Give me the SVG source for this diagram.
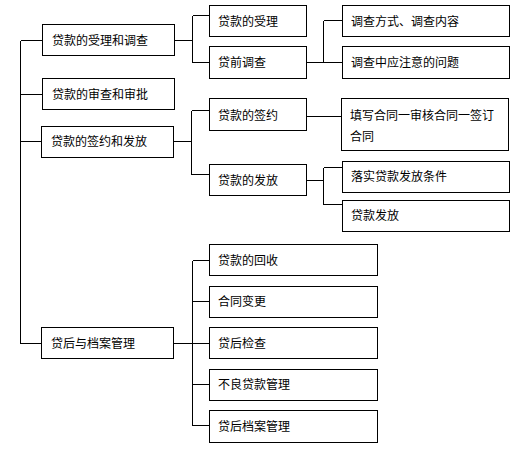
<svg xmlns="http://www.w3.org/2000/svg" width="529" height="457" viewBox="0 0 529 457">
<style>
rect{fill:#fff;stroke:#000;stroke-width:1}
path{fill:none;stroke:#000;stroke-width:1}
text{font-family:"Noto Sans CJK SC","Noto Sans",sans-serif;font-size:12px;fill:#000}
</style>
<rect x="0" y="0" width="529" height="457" style="stroke:none"/>
<g id="connectors" shape-rendering="crispEdges">
<path d="M20.5 40.5V343.5M20.5 40.5H42.5M20.5 94.5H42.5M20.5 141.5H41.5M20.5 343.5H41.5"/>
<path d="M174.5 40.5H192.5M192.5 15.5V62.5M192.5 15.5H209.5M192.5 62.5H209.5"/>
<path d="M306.5 62.5H323.5M323.5 20.5V62.5M323.5 20.5H342.5M323.5 62.5H342.5"/>
<path d="M173.5 141.5H191.5M191.5 110.5V174.5M191.5 110.5H209.5M191.5 174.5H209.5"/>
<path d="M306.5 116.5H341.5"/>
<path d="M306.5 180.5H323.5M323.5 167.5V204.5M323.5 167.5H342.5M323.5 204.5H342.5"/>
<path d="M173.5 343.5H192.5M192.5 260.5V425.5M192.5 260.5H209.5M192.5 301.5H209.5M192.5 343.5H209.5M192.5 384.5H209.5M192.5 425.5H209.5"/>
</g>
<g id="n1"><rect x="42.5" y="24.5" width="132" height="31" shape-rendering="crispEdges"/><text x="52" y="44.5">贷款的受理和调查</text></g>
<g id="n2"><rect x="42.5" y="78.5" width="132" height="31" shape-rendering="crispEdges"/><text x="52" y="98.5">贷款的审查和审批</text></g>
<g id="n3"><rect x="41.5" y="126.5" width="132" height="31" shape-rendering="crispEdges"/><text x="51" y="145.5">贷款的签约和发放</text></g>
<g id="n4"><rect x="41.5" y="327.5" width="132" height="31" shape-rendering="crispEdges"/><text x="51" y="347.5">贷后与档案管理</text></g>
<g id="n1a"><rect x="209.5" y="5.5" width="97" height="31" shape-rendering="crispEdges"/><text x="218" y="25.5">贷款的受理</text></g>
<g id="n1b"><rect x="209.5" y="46.5" width="97" height="32" shape-rendering="crispEdges"/><text x="218" y="67">贷前调查</text></g>
<g id="n1b1"><rect x="342.5" y="5.5" width="167" height="31" shape-rendering="crispEdges"/><text x="351" y="25.5">调查方式、调查内容</text></g>
<g id="n1b2"><rect x="342.5" y="46.5" width="167" height="32" shape-rendering="crispEdges"/><text x="351" y="67">调查中应注意的问题</text></g>
<g id="n3a"><rect x="209.5" y="98.5" width="97" height="32" shape-rendering="crispEdges"/><text x="218" y="119.5">贷款的签约</text></g>
<g id="n3a1"><rect x="341.5" y="98.5" width="167" height="52" shape-rendering="crispEdges"/><text x="350" y="119.5">填写合同一审核合同一签订</text><text x="350" y="140.5">合同</text></g>
<g id="n3b"><rect x="209.5" y="164.5" width="97" height="31" shape-rendering="crispEdges"/><text x="218" y="184.5">贷款的发放</text></g>
<g id="n3b1"><rect x="342.5" y="161.5" width="167" height="31" shape-rendering="crispEdges"/><text x="351" y="181">落实贷款发放条件</text></g>
<g id="n3b2"><rect x="342.5" y="200.5" width="167" height="31" shape-rendering="crispEdges"/><text x="351" y="220">贷款发放</text></g>
<g id="n4a"><rect x="209.5" y="244.5" width="168" height="31" shape-rendering="crispEdges"/><text x="218" y="264.5">贷款的回收</text></g>
<g id="n4b"><rect x="209.5" y="286.5" width="168" height="31" shape-rendering="crispEdges"/><text x="218" y="305.5">合同变更</text></g>
<g id="n4c"><rect x="209.5" y="327.5" width="168" height="31" shape-rendering="crispEdges"/><text x="218" y="347.5">贷后检查</text></g>
<g id="n4d"><rect x="209.5" y="369.5" width="168" height="31" shape-rendering="crispEdges"/><text x="218" y="389">不良贷款管理</text></g>
<g id="n4e"><rect x="209.5" y="410.5" width="168" height="32" shape-rendering="crispEdges"/><text x="218" y="431">贷后档案管理</text></g>
</svg>
